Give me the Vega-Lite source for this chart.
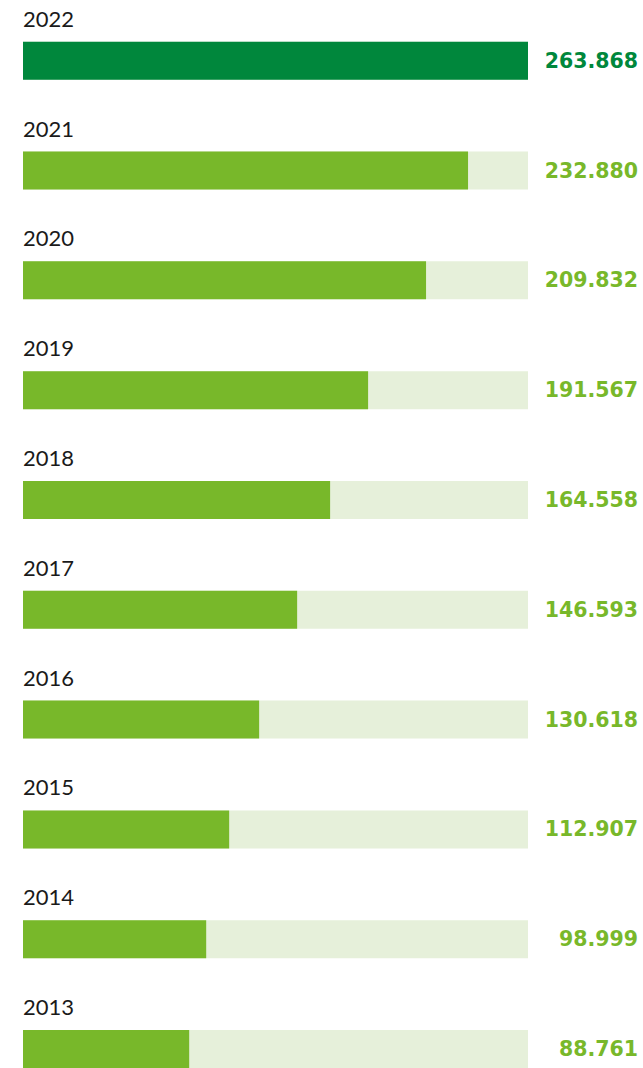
{
  "$schema": "https://vega.github.io/schema/vega-lite/v6.json",
  "width": 505,
  "height": 1068,
  "padding": {"left": 23, "right": 115, "top": 0, "bottom": 0},
  "autosize": {"type": "none"},
  "config": {
    "view": {"stroke": null},
    "locale": {"number": {"decimal": ",", "thousands": ".", "grouping": [3], "currency": ["", " €"]}}
  },
  "data": {
    "values": [
      {"year": "2022", "value": 263868, "bar": 263868, "full": 263868, "group": "latest"},
      {"year": "2021", "value": 232880, "bar": 232540, "full": 263868, "group": "past"},
      {"year": "2020", "value": 209832, "bar": 210600, "full": 263868, "group": "past"},
      {"year": "2019", "value": 191567, "bar": 180320, "full": 263868, "group": "past"},
      {"year": "2018", "value": 164558, "bar": 160470, "full": 263868, "group": "past"},
      {"year": "2017", "value": 146593, "bar": 143240, "full": 263868, "group": "past"},
      {"year": "2016", "value": 130618, "bar": 123390, "full": 263868, "group": "past"},
      {"year": "2015", "value": 112907, "bar": 107730, "full": 263868, "group": "past"},
      {"year": "2014", "value": 98999, "bar": 95720, "full": 263868, "group": "past"},
      {"year": "2013", "value": 88761, "bar": 86840, "full": 263868, "group": "past"}
    ]
  },
  "encoding": {
    "y": {
      "field": "year",
      "type": "ordinal",
      "sort": "descending",
      "axis": null,
      "scale": {"paddingInner": 0.654, "paddingOuter": 0.19, "align": 1}
    }
  },
  "layer": [
    {
      "mark": {"type": "bar", "color": "#E6F0DA"},
      "encoding": {
        "x": {"field": "full", "type": "quantitative", "scale": {"domain": [0, 263868], "nice": false}, "axis": null}
      }
    },
    {
      "mark": {"type": "bar"},
      "encoding": {
        "x": {"field": "bar", "type": "quantitative", "axis": null},
        "color": {"field": "group", "type": "nominal", "scale": {"domain": ["latest", "past"], "range": ["#00873C", "#78B82A"]}, "legend": null}
      }
    },
    {
      "mark": {"type": "text", "align": "left", "baseline": "alphabetic", "dy": -34, "font": "Lato", "fontSize": 22, "color": "#1a1a1a"},
      "encoding": {
        "x": {"datum": 0, "type": "quantitative"},
        "text": {"field": "year"}
      }
    },
    {
      "mark": {"type": "text", "align": "right", "baseline": "middle", "dx": 110, "dy": 1, "font": "DejaVu Sans", "fontWeight": "bold", "fontSize": 20.5},
      "encoding": {
        "x": {"field": "full", "type": "quantitative"},
        "text": {"field": "value", "type": "quantitative", "format": ",d"},
        "color": {"field": "group", "type": "nominal", "scale": {"domain": ["latest", "past"], "range": ["#00873C", "#78B82A"]}, "legend": null}
      }
    }
  ]
}
